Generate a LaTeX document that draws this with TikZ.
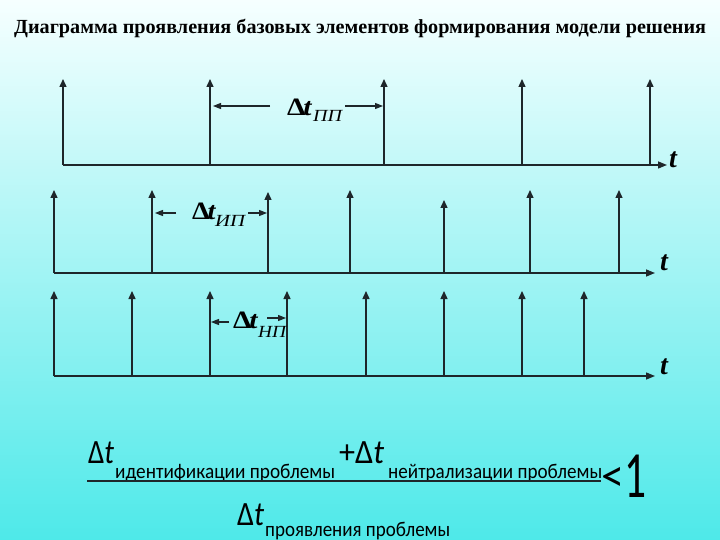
\documentclass[tikz,border=0pt]{standalone}
\usepackage{fontspec}
\usepackage{graphicx}
\setmainfont{Liberation Serif}
\newfontfamily\calib{Carlito}
\usetikzlibrary{arrows.meta}
\definecolor{bgtop}{RGB}{246,255,255}
\definecolor{bgmid}{RGB}{170,246,246}
\definecolor{bgbot}{RGB}{78,233,233}
\definecolor{ln}{RGB}{30,38,42}
\newcommand{\fitw}[2]{\resizebox{#1}{\height}{#2}}
\begin{document}
\begin{tikzpicture}[x=1pt,y=-1pt,
  spike/.style={draw=ln,line width=1.4pt,-{Triangle[length=8pt,width=7pt]}},
  axisline/.style={draw=ln,line width=1.4pt,-{Triangle[length=9pt,width=7pt]}},
  darrow/.style={draw=ln,line width=1.1pt,-{Triangle[length=8pt,width=6pt]}},
  dlab/.style={inner sep=0pt,anchor=base west,font=\fontsize{25}{25}\selectfont\bfseries},
  dsub/.style={inner sep=0pt,anchor=base west,font=\fontsize{17}{17}\selectfont\itshape},
  tlab/.style={inner sep=0pt,font=\fontsize{28}{28}\selectfont\bfseries\itshape},
  flab/.style={inner sep=0pt,anchor=base west,font=\calib\fontsize{34}{34}\selectfont},
  fsub/.style={inner sep=0pt,anchor=base west,font=\calib\fontsize{21}{21}\selectfont}]
\shade[top color=bgtop,middle color=bgmid,bottom color=bgbot] (0,0) rectangle (720,540);
\useasboundingbox (0,0) rectangle (720,540);
% title
\node[inner sep=0pt,anchor=base west,font=\fontsize{20}{20}\selectfont\bfseries] (title) at (14,34) {\fitw{692pt}{Диаграмма проявления базовых элементов формирования модели решения}};
% row 1
\coordinate (a1s) at (63,165); \coordinate (a1e) at (667,165);
\draw[axisline] (a1s) -- (a1e);
\foreach \x [count=\i] in {63,210,384,522,650}{
  \coordinate (r1b\i) at (\x,165); \coordinate (r1t\i) at (\x,79);
  \draw[spike] (r1b\i) -- (r1t\i);}
\coordinate (d1a) at (270,106); \coordinate (d1b) at (213,106);
\coordinate (d1c) at (345,106); \coordinate (d1d) at (383,106);
\draw[darrow] (d1a) -- (d1b); \draw[darrow] (d1c) -- (d1d);
\node[dlab] (l1) at (287,116) {\fitw{25pt}{Δ\kern-2pt\textit{t}}};
\node[dsub] (l1s) at (313,122) {\fitw{29pt}{ПП}};
\node[tlab] (t1) at (673,160) {t};
% row 2
\coordinate (a2s) at (54,273); \coordinate (a2e) at (655,273);
\draw[axisline] (a2s) -- (a2e);
\foreach \x/\y [count=\i] in {54/190,152/190,268/192,350/190,444/200,530/190,619/190}{
  \coordinate (r2b\i) at (\x,273); \coordinate (r2t\i) at (\x,\y);
  \draw[spike] (r2b\i) -- (r2t\i);}
\coordinate (d2a) at (176,213); \coordinate (d2b) at (155,213);
\coordinate (d2c) at (248,213); \coordinate (d2d) at (267,213);
\draw[darrow] (d2a) -- (d2b); \draw[darrow] (d2c) -- (d2d);
\node[dlab] (l2) at (192,220) {\fitw{24pt}{Δ\kern-2pt\textit{t}}};
\node[dsub] (l2s) at (215,227) {\fitw{30pt}{ИП}};
\node[tlab] (t2) at (664,263) {t};
% row 3
\coordinate (a3s) at (54,376); \coordinate (a3e) at (655,376);
\draw[axisline] (a3s) -- (a3e);
\foreach \x [count=\i] in {54,132,210,287,366,444,522,584}{
  \coordinate (r3b\i) at (\x,376); \coordinate (r3t\i) at (\x,291);
  \draw[spike] (r3b\i) -- (r3t\i);}
\coordinate (d3a) at (229,322); \coordinate (d3b) at (211,322);
\coordinate (d3c) at (267,318); \coordinate (d3d) at (286,318);
\draw[darrow] (d3a) -- (d3b); \draw[darrow] (d3c) -- (d3d);
\node[dlab] (l3) at (233,328) {\fitw{25pt}{Δ\kern-2pt\textit{t}}};
\node[dsub] (l3s) at (258,337) {\fitw{28pt}{НП}};
\node[tlab] (t3) at (664,367) {t};
% formula
\node[flab] (n1) at (88,463) {\fitw{26pt}{Δ\textit{t}}};
\node[fsub] (n1s) at (115,478) {\fitw{220pt}{идентификации проблемы}};
\node[flab] (n2) at (339,463) {\fitw{45pt}{+Δ\textit{t}}};
\node[fsub] (n2s) at (388,478) {\fitw{214pt}{нейтрализации проблемы}};
\coordinate (fl) at (87,481); \coordinate (fr) at (601,481);
\draw[ln,line width=1.6pt] (fl) -- (fr);
\node[inner sep=0pt,anchor=base west,font=\calib\fontsize{46}{46}\selectfont] (lt) at (601,491) {\fitw{23pt}{<}};
\node[inner sep=0pt,anchor=base west,font=\calib\fontsize{66}{66}\selectfont] (one) at (624,497) {\fitw{22pt}{1}};
\node[flab] (dd) at (237,525) {\fitw{27pt}{Δ\textit{t}}};
\node[fsub] (dds) at (265,536) {\fitw{185pt}{проявления проблемы}};
\end{tikzpicture}
\end{document}
